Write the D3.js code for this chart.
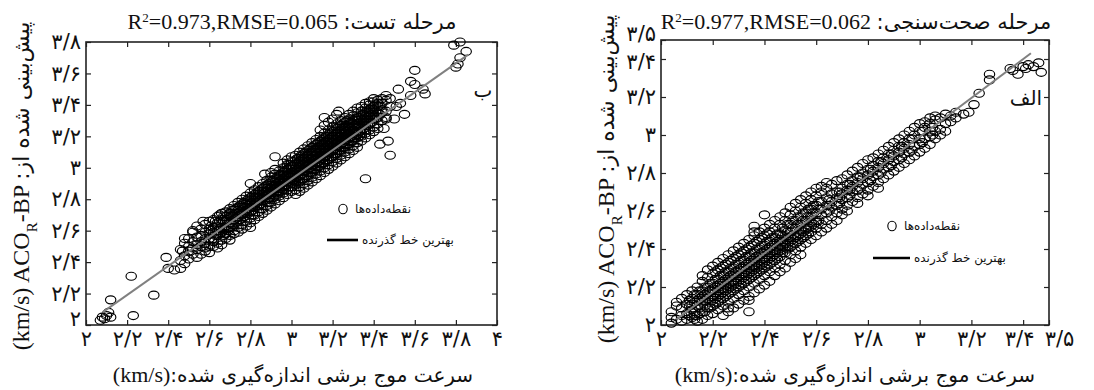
<!DOCTYPE html>
<html><head><meta charset="utf-8">
<script src="https://cdn.jsdelivr.net/npm/d3@7"></script>
<style>body{margin:0;background:#fff}svg{display:block}</style>
</head><body>
<svg id="chart" width="1094" height="390"></svg>
<script>
// ---------------- DATA ----------------
// Panel "ب" (test stage). Columns: [measured x, [predicted y values]]
const testColumns = [
 [2.46,[2.41,2.48,2.36]],
 [2.48,[2.44,2.39,2.52]],
 [2.50,[2.47,2.55,2.42,2.50]],
 [2.52,[2.45,2.53,2.60,2.49]],
 [2.54,[2.48,2.56,2.43,2.51,2.63]],
 [2.56,[2.50,2.57,2.45,2.61,2.53]],
 [2.58,[2.52,2.59,2.47,2.64,2.55,2.49]],
 [2.60,[2.50,2.61,2.55,2.66,2.46,2.58]],
 [2.62,[2.55,2.62,2.50,2.67,2.59,2.53]],
 [2.64,[2.57,2.65,2.52,2.60,2.69,2.49,2.63]],
 [2.66,[2.59,2.67,2.54,2.71,2.62,2.51]],
 [2.68,[2.58,2.66,2.61,2.72,2.55,2.69,2.63]],
 [2.70,[2.62,2.69,2.57,2.74,2.65,2.54,2.71]],
 [2.72,[2.64,2.70,2.60,2.76,2.67,2.58,2.73]],
 [2.74,[2.66,2.73,2.62,2.78,2.69,2.59,2.75]],
 [2.76,[2.68,2.75,2.64,2.80,2.71,2.61,2.77,2.70]],
 [2.78,[2.71,2.77,2.66,2.82,2.73,2.63,2.79]],
 [2.80,[2.72,2.79,2.68,2.84,2.75,2.65,2.81,2.77]],
 [2.82,[2.75,2.81,2.70,2.86,2.77,2.67,2.83]],
 [2.84,[2.76,2.83,2.72,2.88,2.79,2.69,2.85,2.81]],
 [2.86,[2.79,2.85,2.74,2.90,2.81,2.71,2.87,2.83]],
 [2.88,[2.80,2.87,2.76,2.92,2.83,2.73,2.89,2.85]],
 [2.90,[2.83,2.89,2.78,2.94,2.85,2.75,2.91,2.87,2.97]],
 [2.92,[2.84,2.91,2.80,2.96,2.87,2.77,2.93,2.89,2.99]],
 [2.94,[2.87,2.93,2.82,2.98,2.89,2.79,2.95,2.91,2.85]],
 [2.96,[2.88,2.95,2.84,3.00,2.91,2.81,2.97,2.93,3.03,2.86]],
 [2.98,[2.91,2.97,2.86,3.02,2.93,2.83,2.99,2.95,2.89,3.05]],
 [3.00,[2.92,2.99,2.88,3.04,2.95,2.85,3.01,2.97,2.90,3.07]],
 [3.02,[2.94,3.00,2.89,3.05,2.96,2.86,3.02,2.98,2.91,3.08,2.83]],
 [3.04,[2.95,3.02,2.91,3.07,2.98,2.88,3.04,3.00,2.93,3.10,2.85]],
 [3.06,[2.98,3.04,2.93,3.09,3.00,2.90,3.06,3.02,2.95,3.12,2.87]],
 [3.08,[2.99,3.06,2.95,3.11,3.02,2.92,3.08,3.04,2.97,3.14,2.89,3.01]],
 [3.10,[3.02,3.08,2.97,3.13,3.04,2.94,3.10,3.06,2.99,3.16,2.91,3.03]],
 [3.12,[3.03,3.10,2.99,3.15,3.06,2.96,3.12,3.08,3.01,3.18,2.93,3.05]],
 [3.14,[3.06,3.12,3.01,3.17,3.08,2.98,3.14,3.10,3.03,3.20,2.95,3.07,3.24]],
 [3.16,[3.07,3.14,3.03,3.19,3.10,3.00,3.16,3.12,3.05,3.22,2.97,3.09,3.27]],
 [3.18,[3.10,3.16,3.05,3.21,3.12,3.02,3.18,3.14,3.07,3.24,2.99,3.11,3.29]],
 [3.20,[3.11,3.18,3.07,3.23,3.14,3.04,3.20,3.16,3.09,3.26,3.01,3.13,3.31]],
 [3.22,[3.14,3.20,3.09,3.25,3.16,3.06,3.22,3.18,3.11,3.28,3.03,3.15,3.34]],
 [3.24,[3.15,3.22,3.11,3.27,3.18,3.08,3.24,3.20,3.13,3.30,3.05,3.17]],
 [3.26,[3.18,3.24,3.13,3.29,3.20,3.10,3.26,3.22,3.15,3.32,3.07,3.19]],
 [3.28,[3.19,3.26,3.15,3.31,3.22,3.12,3.28,3.24,3.17,3.34,3.09,3.21]],
 [3.30,[3.22,3.28,3.17,3.33,3.24,3.14,3.30,3.26,3.19,3.36,3.11]],
 [3.32,[3.23,3.30,3.19,3.35,3.26,3.16,3.32,3.28,3.21,3.38,3.13]],
 [3.34,[3.25,3.31,3.20,3.36,3.27,3.17,3.33,3.29,3.22,3.39]],
 [3.36,[3.27,3.33,3.22,3.38,3.29,3.19,3.35,3.31,3.24,3.41]],
 [3.38,[3.28,3.35,3.24,3.40,3.31,3.21,3.37,3.33,3.42]],
 [3.40,[3.31,3.37,3.26,3.42,3.33,3.23,3.39,3.44]],
 [3.42,[3.32,3.39,3.28,3.43,3.35,3.25,3.41]],
 [3.44,[3.35,3.41,3.30,3.44,3.37]],
 [3.46,[3.36,3.43,3.32,3.46]],
 [3.48,[3.39,3.44]],
 // second pass, in-between measured values
 [2.61,[2.54,2.60,2.63]],[2.63,[2.57,2.62,2.66]],[2.65,[2.60,2.58,2.66]],
 [2.67,[2.61,2.66,2.69,2.57]],[2.69,[2.62,2.67,2.70,2.60]],[2.71,[2.64,2.69,2.73,2.62]],
 [2.73,[2.66,2.71,2.74,2.68]],[2.75,[2.67,2.72,2.76,2.70]],[2.77,[2.69,2.75,2.78,2.72]],
 [2.79,[2.72,2.76,2.80,2.74]],[2.81,[2.73,2.78,2.82,2.75,2.70]],[2.83,[2.76,2.81,2.84,2.78]],
 [2.85,[2.77,2.82,2.86,2.80,2.74]],[2.87,[2.80,2.84,2.88,2.82]],[2.89,[2.81,2.86,2.90,2.84,2.78]],
 [2.91,[2.84,2.88,2.92,2.86,2.81]],[2.93,[2.85,2.90,2.94,2.88,2.83]],[2.95,[2.88,2.92,2.96,2.90,2.85]],
 [2.97,[2.89,2.94,2.98,2.92,2.87,3.00]],[2.99,[2.91,2.96,3.00,2.94,2.88,3.02]],
 [3.01,[2.92,2.97,3.01,2.95,2.90,3.04]],[3.03,[2.94,2.99,3.03,2.97,2.92,3.06]],
 [3.05,[2.96,3.01,3.05,2.99,2.93,3.08]],[3.07,[2.98,3.03,3.07,3.01,2.95,3.10]],
 [3.09,[3.00,3.05,3.09,3.03,2.97,3.12]],[3.11,[3.02,3.07,3.11,3.05,2.99,3.14]],
 [3.13,[3.04,3.09,3.13,3.07,3.01,3.16]],[3.15,[3.06,3.11,3.15,3.09,3.03,3.18]],
 [3.17,[3.08,3.13,3.17,3.11,3.05,3.20]],[3.19,[3.10,3.15,3.19,3.13,3.07,3.22]],
 [3.21,[3.12,3.17,3.21,3.15,3.09,3.24]],[3.23,[3.14,3.19,3.23,3.17,3.11,3.26]],
 [3.25,[3.16,3.21,3.25,3.19,3.13,3.28]],[3.27,[3.18,3.23,3.27,3.21,3.15,3.30]],
 [3.29,[3.20,3.25,3.29,3.23,3.17]],[3.31,[3.22,3.27,3.31,3.25,3.19]],
 [3.33,[3.23,3.28,3.32,3.26,3.20]],[3.35,[3.25,3.30,3.34,3.28]],
 [3.37,[3.27,3.32,3.36,3.30]],[3.39,[3.29,3.34,3.38]],[3.41,[3.31,3.36,3.40]],[3.43,[3.34,3.39]]
];
// scattered / isolated points of panel "ب"
const testOutliers = [
 [2.07,2.03],[2.08,2.05],[2.10,2.06],[2.12,2.05],[2.11,2.08],[2.09,2.04],[2.12,2.16],[2.23,2.06],[2.22,2.31],[2.33,2.19],
 [2.39,2.43],[2.40,2.36],[2.43,2.35],[2.47,2.47],[2.48,2.55],[2.52,2.59],[2.57,2.66],[2.65,2.70],[2.80,2.62],[2.80,2.90],
 [2.92,3.07],[2.87,2.96],[3.16,3.32],[3.23,3.36],[3.36,2.93],[3.43,3.15],[3.47,3.17],[3.48,3.08],[3.45,3.25],[3.46,3.31],
 [3.50,3.31],[3.51,3.39],[3.55,3.34],[3.53,3.41],[3.58,3.55],[3.60,3.62],[3.60,3.53],[3.64,3.50],[3.65,3.47],[3.52,3.50],[3.58,3.46],
 [3.79,3.78],[3.82,3.80],[3.85,3.74],[3.82,3.70],[3.81,3.66],[3.80,3.64]
];
const testFit = [[2.08,2.08],[3.86,3.72]];

// Panel "الف" (validation stage)
const valColumns = [
 [2.04,[2.01,2.07,2.04]],
 [2.06,[2.03,2.10,2.12]],
 [2.08,[2.05,2.02,2.09,2.14]],
 [2.10,[2.06,2.11,2.03,2.16]],
 [2.12,[2.08,2.14,2.04,2.18,2.11]],
 [2.14,[2.10,2.16,2.05,2.20,2.13,2.02]],
 [2.16,[2.12,2.18,2.07,2.23,2.15,2.03,2.26]],
 [2.18,[2.14,2.20,2.09,2.25,2.17,2.05,2.29]],
 [2.20,[2.15,2.22,2.10,2.27,2.19,2.06,2.31,2.13]],
 [2.22,[2.18,2.24,2.12,2.29,2.21,2.08,2.33,2.15]],
 [2.24,[2.19,2.26,2.14,2.31,2.23,2.10,2.35,2.17,2.05]],
 [2.26,[2.22,2.28,2.16,2.33,2.25,2.12,2.37,2.19,2.07]],
 [2.28,[2.23,2.30,2.18,2.35,2.27,2.14,2.39,2.21,2.09]],
 [2.30,[2.26,2.32,2.20,2.37,2.29,2.16,2.41,2.23,2.11]],
 [2.32,[2.27,2.34,2.22,2.39,2.31,2.18,2.43,2.25,2.13]],
 [2.34,[2.30,2.36,2.24,2.41,2.33,2.20,2.45,2.27,2.15,2.07]],
 [2.36,[2.31,2.38,2.26,2.43,2.35,2.22,2.47,2.29,2.17,2.52]],
 [2.38,[2.34,2.40,2.28,2.45,2.37,2.24,2.49,2.31,2.19]],
 [2.40,[2.35,2.42,2.30,2.47,2.39,2.26,2.51,2.33,2.21,2.58]],
 [2.42,[2.38,2.44,2.32,2.49,2.41,2.28,2.53,2.35,2.23]],
 [2.44,[2.39,2.46,2.34,2.51,2.43,2.30,2.55,2.37,2.26]],
 [2.46,[2.42,2.48,2.36,2.53,2.45,2.32,2.57,2.39,2.28]],
 [2.48,[2.43,2.50,2.38,2.55,2.47,2.34,2.59,2.41,2.30]],
 [2.50,[2.46,2.53,2.41,2.58,2.49,2.37,2.62,2.44,2.33]],
 [2.52,[2.47,2.55,2.43,2.60,2.51,2.39,2.64,2.46,2.35]],
 [2.54,[2.50,2.57,2.45,2.62,2.53,2.41,2.66,2.48,2.37]],
 [2.56,[2.51,2.59,2.47,2.64,2.55,2.43,2.68,2.50]],
 [2.58,[2.54,2.61,2.49,2.66,2.57,2.45,2.70,2.52]],
 [2.60,[2.55,2.63,2.51,2.68,2.59,2.47,2.72,2.54]],
 [2.62,[2.58,2.65,2.53,2.70,2.61,2.49,2.73]],
 [2.64,[2.59,2.67,2.55,2.72,2.63,2.51,2.75]],
 [2.66,[2.62,2.69,2.57,2.74,2.65,2.53]],
 [2.68,[2.63,2.70,2.59,2.76,2.67,2.55]],
 [2.70,[2.66,2.72,2.61,2.77,2.69,2.58]],
 [2.72,[2.67,2.74,2.63,2.79,2.71,2.60]],
 [2.74,[2.70,2.76,2.65,2.81,2.73]],
 [2.76,[2.71,2.78,2.67,2.83,2.75,2.64]],
 [2.78,[2.74,2.80,2.69,2.85,2.77]],
 [2.80,[2.75,2.82,2.71,2.87,2.79,2.68]],
 [2.82,[2.78,2.84,2.73,2.88,2.81]],
 [2.84,[2.79,2.86,2.75,2.90,2.83,2.72]],
 [2.86,[2.82,2.88,2.77,2.92,2.85]],
 [2.88,[2.83,2.90,2.79,2.94,2.87]],
 [2.90,[2.86,2.92,2.81,2.96,2.89]],
 [2.92,[2.87,2.94,2.83,2.98,2.91]],
 [2.94,[2.90,2.96,2.85,3.00,2.93]],
 [2.96,[2.91,2.98,2.87,3.02,2.95]],
 [2.98,[2.94,3.00,2.89,3.04]],
 [3.00,[2.95,3.02,2.91,3.06,2.98]],
 [3.02,[2.98,3.04,2.93,3.07]],
 [3.04,[2.99,3.06,2.95,3.09,3.02]],
 [3.06,[3.02,3.08,2.98,3.10]],
 [3.08,[3.03,3.09,3.00]],
 [3.10,[3.06,3.11,3.02]],
 [3.12,[3.07,3.10]],
 [3.14,[3.09,3.12]],
 // second pass, in-between measured values
 [2.11,[2.05,2.10,2.13]],[2.13,[2.07,2.12,2.16,2.03]],[2.15,[2.09,2.14,2.18,2.06]],
 [2.17,[2.10,2.16,2.20,2.07,2.13]],[2.19,[2.12,2.18,2.22,2.09,2.15]],
 [2.21,[2.14,2.20,2.24,2.11,2.17,2.28]],[2.23,[2.16,2.22,2.26,2.13,2.19,2.30]],
 [2.25,[2.18,2.24,2.28,2.15,2.21,2.32]],[2.27,[2.20,2.26,2.30,2.17,2.23,2.34]],
 [2.29,[2.22,2.28,2.32,2.19,2.25,2.36]],[2.31,[2.24,2.30,2.34,2.21,2.27,2.38]],
 [2.33,[2.26,2.32,2.36,2.23,2.29,2.40]],[2.35,[2.28,2.34,2.38,2.25,2.31,2.42]],
 [2.37,[2.30,2.36,2.40,2.27,2.33,2.44]],[2.39,[2.32,2.38,2.42,2.29,2.35,2.46]],
 [2.41,[2.34,2.40,2.44,2.31,2.37,2.48]],[2.43,[2.36,2.42,2.46,2.33,2.39]],
 [2.45,[2.38,2.44,2.48,2.35,2.41]],[2.47,[2.41,2.47,2.51,2.38,2.44]],
 [2.49,[2.43,2.49,2.53,2.40,2.46]],[2.51,[2.45,2.51,2.55,2.42]],[2.53,[2.47,2.53,2.57,2.44]],
 [2.55,[2.49,2.55,2.59,2.46]],[2.57,[2.51,2.57,2.61,2.48]],[2.59,[2.53,2.59,2.63]],[2.61,[2.55,2.61,2.65]],
 [2.65,[2.60,2.66,2.63]],[2.69,[2.64,2.70,2.67]],[2.73,[2.68,2.74,2.71]],[2.77,[2.72,2.78]],
 [2.81,[2.76,2.82]],[2.85,[2.80,2.86]],[2.89,[2.84,2.90]],[2.93,[2.88,2.94]],[2.97,[2.92,2.98]],
 [3.01,[2.96,3.02]],[3.05,[3.00,3.04]]
];
const valOutliers = [
 [2.13,2.05],[2.34,2.13],[2.36,2.49],[2.26,2.09],
 [3.17,3.11],[3.19,3.12],[3.21,3.16],[3.23,3.22],[3.27,3.29],[3.27,3.32],[3.35,3.35],[3.38,3.32],[3.40,3.36],
 [3.41,3.35],[3.42,3.37],[3.44,3.36],[3.46,3.38],[3.47,3.33],[3.36,3.34]
];
const valFit = [[2.06,2.03],[3.43,3.43]];

const testXTicks = [2,2.2,2.4,2.6,2.8,3,3.2,3.4,3.6,3.8,4];
const testYTicks = [2,2.2,2.4,2.6,2.8,3,3.2,3.4,3.6,3.8];
const valXTicks  = [2,2.2,2.4,2.6,2.8,3,3.2,3.4,3.5];
const valYTicks  = [2,2.2,2.4,2.6,2.8,3,3.2,3.4,3.5];

const testStatsRest = "=0.973,RMSE=0.065 ", testStage = "مرحله تست:";
const valStatsRest = "=0.977,RMSE=0.062 ", valStage = "مرحله صحت‌سنجی:";
const xTitleFa = "سرعت موج برشی اندازه‌گیری شده:";
const yTitleFa = "پیش‌بینی شده از:";
const legendPoints = "نقطه‌داده‌ها";
const legendLine = "بهترین خط گذرنده";

// ---------------- DRAW ----------------
const flatten = (cols, extra) => cols.flatMap(([x, ys]) => ys.map(y => [x, y])).concat(extra);
const svg = d3.select("#chart");
const faDigits = "۰۱۲۳۴۵۶۷۸۹";
const fa = d => String(Math.round(d*10)/10).replace(/[0-9]/g, c => faDigits[+c]).replace(".", "/");
const SERIF = "'Liberation Serif','Times New Roman',serif";
const FA = "'DejaVu Sans',sans-serif";

const panels = [
  {pts:flatten(testColumns, testOutliers), fit:testFit, xd:[2,4], yd:[2,3.8], xt:testXTicks, yt:testYTicks,
   box:{l:86,r:497,t:42,b:325}, stats:testStatsRest, stage:testStage, tag:"ب", tagPos:[483,97],
   titleX:292, yLab:[21,186], xLab:[293,382], leg:{cx:343, cy:209, lx1:327, lx2:358, ly:240},
   xShift:{}, yShift:{2:-6}},
  {pts:flatten(valColumns, valOutliers), fit:valFit, xd:[2,3.5], yd:[2,3.5], xt:valXTicks, yt:valYTicks,
   box:{l:661,r:1049,t:40,b:325}, stats:valStatsRest, stage:valStage, tag:"الف", tagPos:[1026,105],
   titleX:856, yLab:[606,179], xLab:[855,382], leg:{cx:892, cy:226, lx1:873, lx2:910, ly:258},
   xShift:{3.4:-4, 3.5:10}, yShift:{3.5:-6, 3.4:3}}
];

panels.forEach(p => {
  const B = p.box;
  const x = d3.scaleLinear().domain(p.xd).range([B.l, B.r]);
  const y = d3.scaleLinear().domain(p.yd).range([B.b, B.t]);
  const g = svg.append("g");

  const styleAxis = sel => {
    sel.select(".domain").remove();
    sel.selectAll(".tick line").attr("stroke","#222").attr("stroke-width",1.2);
    sel.selectAll("text").attr("font-family", FA).attr("font-size", 21).attr("fill","#111");
  };
  g.append("g").attr("transform",`translate(0,${B.b})`)
    .call(d3.axisBottom(x).tickValues(p.xt).tickFormat(fa).tickSizeInner(-5).tickSizeOuter(0).tickPadding(6))
    .call(styleAxis)
    .selectAll(".tick text").attr("dx", d => p.xShift[d] || 0);
  g.append("g").attr("transform",`translate(${B.l},0)`)
    .call(d3.axisLeft(y).tickValues(p.yt).tickFormat(fa).tickSizeInner(-5).tickSizeOuter(0).tickPadding(5))
    .call(styleAxis)
    .selectAll(".tick text").attr("transform", d => `translate(0,${p.yShift[d] || 0})`).attr("dy","0.32em");
  g.append("g").attr("transform",`translate(0,${B.t})`)
    .call(d3.axisTop(x).tickValues(p.xt).tickFormat("").tickSizeInner(-5).tickSizeOuter(0))
    .call(styleAxis);
  g.append("g").attr("transform",`translate(${B.r},0)`)
    .call(d3.axisRight(y).tickValues(p.yt).tickFormat("").tickSizeInner(-5).tickSizeOuter(0))
    .call(styleAxis);

  g.append("rect").attr("x",B.l).attr("y",B.t).attr("width",B.r-B.l).attr("height",B.b-B.t)
    .attr("fill","none").attr("stroke","#222").attr("stroke-width",1.6);

  g.append("g").selectAll("ellipse").data(p.pts).join("ellipse")
    .attr("cx", d => x(d[0])).attr("cy", d => y(d[1]))
    .attr("rx", 5.2).attr("ry", 4)
    .attr("fill","none").attr("stroke","#000").attr("stroke-width",1.15);

  g.append("line")
    .attr("x1", x(p.fit[0][0])).attr("y1", y(p.fit[0][1]))
    .attr("x2", x(p.fit[1][0])).attr("y2", y(p.fit[1][1]))
    .attr("stroke","#808080").attr("stroke-width",2);

  g.append("text").attr("x",p.tagPos[0]).attr("y",p.tagPos[1]).attr("text-anchor","middle")
    .attr("font-family",FA).attr("font-size",20).attr("fill","#111").text(p.tag);

  const L = p.leg;
  g.append("ellipse").attr("cx",L.cx).attr("cy",L.cy).attr("rx",4.2).attr("ry",4.8)
    .attr("fill","none").attr("stroke","#000").attr("stroke-width",1.1);
  g.append("text").attr("x",L.cx+12).attr("y",L.cy+4).attr("font-family",FA).attr("font-size",12)
    .attr("fill","#111").text(legendPoints);
  g.append("line").attr("x1",L.lx1).attr("x2",L.lx2).attr("y1",L.ly).attr("y2",L.ly)
    .attr("stroke","#000").attr("stroke-width",2.6);
  g.append("text").attr("x",L.lx2+4).attr("y",L.ly+4).attr("font-family",FA).attr("font-size",12)
    .attr("fill","#111").text(legendLine);

  const t = g.append("text").attr("x",p.titleX).attr("y",29).attr("text-anchor","middle")
    .attr("font-family",SERIF+",'DejaVu Sans'").attr("font-size",22).attr("fill","#111");
  t.append("tspan").text("R");
  t.append("tspan").attr("baseline-shift","super").attr("font-size",13).text("2");
  t.append("tspan").text(p.stats);
  t.append("tspan").attr("font-family",FA).attr("font-size",21).text(p.stage + "\u200F");

  const xt = g.append("text").attr("x",p.xLab[0]).attr("y",p.xLab[1]).attr("text-anchor","middle")
    .attr("font-size",22).attr("fill","#111").attr("font-family",SERIF);
  xt.append("tspan").text("(km/s)");
  xt.append("tspan").attr("font-family",FA).attr("font-size",20).text(xTitleFa + "\u200F");

  const yt = g.append("text").attr("transform",`translate(${p.yLab[0]},${p.yLab[1]}) rotate(-90)`)
    .attr("text-anchor","middle").attr("dy","0.35em")
    .attr("font-size",24).attr("fill","#111").attr("font-family",SERIF);
  yt.append("tspan").text("(km/s) ACO");
  yt.append("tspan").attr("baseline-shift","sub").attr("font-size",15).text("R");
  yt.append("tspan").text("-BP ");
  yt.append("tspan").attr("font-family",FA).attr("font-size",22).text(yTitleFa + "\u200F");
});
</script>
</body></html>
